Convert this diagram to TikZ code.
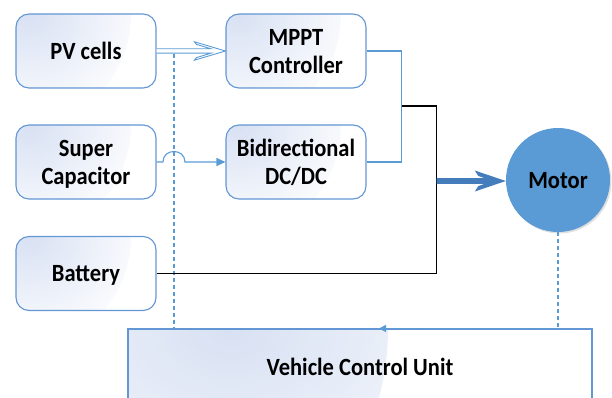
\documentclass[tikz,border=0pt]{standalone}
\usepackage{fontspec}
\usepackage{graphicx}
\setmainfont{Carlito}
\usetikzlibrary{arrows.meta,shadows,calc}
\definecolor{lineblue}{RGB}{91,155,213}
\definecolor{boxedge}{RGB}{98,150,212}
\definecolor{gradc}{RGB}{216,225,243}
\definecolor{motorblue}{RGB}{91,155,213}
\definecolor{thickblue}{RGB}{68,124,188}
\pgfdeclareradialshading[gradc]{tlfade}{\pgfpoint{0bp}{0bp}}{color(0bp)=(gradc); color(25bp)=(white); color(50bp)=(white)}
\newcommand{\vtxt}[1]{\raisebox{-2.8pt}[\height][\depth]{\scalebox{1}[1.1]{\begin{tabular}{@{}c@{}}#1\end{tabular}}}}
\begin{document}
\begin{tikzpicture}[x=1pt,y=1pt,
  lbl/.style={font=\fontsize{22.5}{25.5}\selectfont\bfseries, align=center, inner sep=0pt},
  box/.style={lbl, draw=boxedge, line width=1.1pt, rounded corners=13pt,
    minimum width=140pt, minimum height=74pt, fill=white,
    path picture={\shade[shading=tlfade]
      (path picture bounding box.north west) circle[radius=115pt];}},
  vcubox/.style={lbl, draw=boxedge, line width=1.1pt,
    minimum width=464pt, minimum height=76pt, fill=white,
    path picture={\shade[shading=tlfade]
      (path picture bounding box.north west) circle[radius=260pt];}},
  bline/.style={draw=lineblue, line width=1.1pt},
  dline/.style={draw=lineblue, line width=1.1pt, dash pattern=on 4pt off 3pt},
  kline/.style={draw=black, line width=1.1pt}]
\useasboundingbox (0,0) rectangle (612,-398);
\clip (0,0) rectangle (612,-398);

\node[box] (pv)   at (86,-51)    {\vtxt{PV cells}};
\node[box] (sc)   at (86,-162)   {\vtxt{Super\\Capacitor}};
\node[box] (bat)  at (86,-273.5) {\vtxt{Battery}};
\node[box] (mppt) at (296,-51)   {\vtxt{MPPT\\Controller}};
\node[box] (bidi) at (296,-162)  {\vtxt{Bidirectional\\DC/DC}};
\node[lbl, circle, fill=motorblue, minimum size=104pt,
  drop shadow={shadow xshift=1.5pt, shadow yshift=-1.5pt, opacity=0.25}] (motor) at (558,-180) {\vtxt{Motor}};
\node[vcubox] (vcu) at (360,-367) {\vtxt{Vehicle Control Unit}};

% PV -> MPPT hollow arrow
\draw[lineblue, line width=0.9pt, fill=white, line join=miter]
  ($(pv.east)+(0,2.2)$) -- ($(mppt.west)+(-14.5,2.2)$) -- ($(mppt.west)+(-29,6.6)$)
  -- ($(mppt.west)+(-31,9.2)$) -- (mppt.west) -- ($(mppt.west)+(-31,-9.2)$)
  -- ($(mppt.west)+(-29,-6.6)$) -- ($(mppt.west)+(-14.5,-2.2)$) -- ($(pv.east)+(0,-2.2)$);

% dashed control line from PV arrow to VCU
\coordinate (d1) at ($(pv.east)+(17.4,-2.6)$);
\draw[dline] (d1) -- (d1 |- vcu.north);

% Super capacitor -> Bidirectional with hop
\coordinate (h1) at ($(d1 |- sc.east)+(-11,0)$);
\coordinate (h2) at ($(d1 |- sc.east)+(11,0)$);
\draw[bline, -{Triangle[length=9pt,width=8pt]}]
  (sc.east) -- (h1) .. controls ($(h1)+(0,14)$) and ($(h2)+(0,14)$) .. (h2) -- (bidi.west);

% MPPT / Bidirectional junction
\coordinate (j) at ($(mppt.east)+(35,0)$);
\draw[bline] (mppt.east) -- (j) -- (j |- bidi.east) -- (bidi.east);

% black bus to battery
\coordinate (k) at ($(j)+(0,-55)$);
\coordinate (k2) at ($(k)+(35,0)$);
\draw[kline] (k) -- (k2) -- (k2 |- bat.east) -- (bat.east);

% thick arrow to motor
\coordinate (ta) at ($(motor.west)+(0,-1)$);
\fill[thickblue]
  ($(k2 |- ta)+(0,2.8)$) -- ($(ta)+(-21,2.8)$) -- ($(ta)+(-27.5,5)$)
  -- ($(ta)+(-31,10.5)$) -- (ta) -- ($(ta)+(-31,-10.5)$)
  -- ($(ta)+(-27.5,-5)$) -- ($(ta)+(-21,-2.8)$) -- ($(k2 |- ta)+(0,-2.8)$) -- cycle;

% motor -> VCU dashed
\draw[dline, -{Triangle[length=7pt,width=7pt]}]
  (motor.south) -- (motor.south |- vcu.north) -- ($(vcu.north)+(19,0)$);
\end{tikzpicture}
\end{document}
